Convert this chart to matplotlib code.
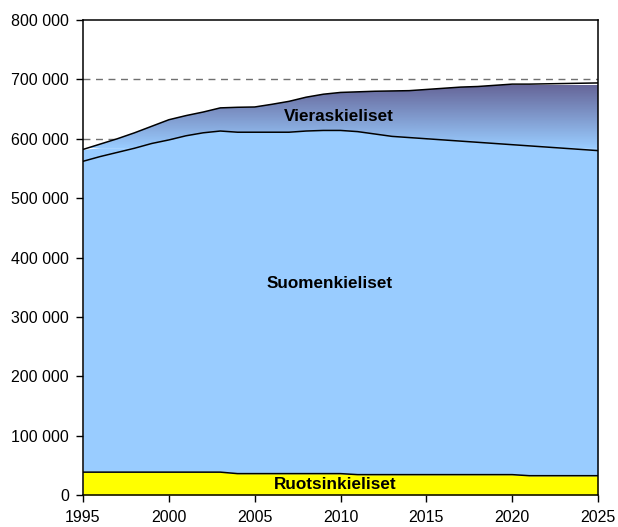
import matplotlib
matplotlib.use("Agg")
import matplotlib.pyplot as plt
import numpy as np
from matplotlib.colors import LinearSegmentedColormap
from matplotlib.ticker import FuncFormatter

years = list(range(1995, 2026))
ruotsinkieliset = [38500]*9 + [36000]*7 + [34300]*10 + [32500]*5
suomenkieliset = [523500, 531500, 538500, 545500, 553500, 559500, 566500, 571500, 574500,
                  575000, 575000, 575000, 575000, 577000, 578000, 578000, 577700, 573700,
                  569700, 567700, 565700, 563700, 561700, 559700, 557700, 555700, 555500,
                  553500, 551500, 549500, 547500]
vieraskieliset = [20000, 21000, 23000, 26000, 29000, 34000, 34000, 35000, 39000, 42000,
                  42500, 47000, 52000, 57000, 61000, 64000, 67000, 72000, 76500, 79000,
                  83000, 87000, 91000, 94000, 98000, 102000, 104000, 106500, 109000,
                  111500, 114000]
series_labels = ["Ruotsinkieliset", "Suomenkieliset", "Vieraskieliset"]
x_ticks = [1995, 2000, 2005, 2010, 2015, 2020, 2025]
y_ticks = list(range(0, 800001, 100000))

plt.rcParams['font.family'] = ['Liberation Sans', 'DejaVu Sans']

x = np.array(years)
r = np.array(ruotsinkieliset)
s = r + np.array(suomenkieliset)
v = s + np.array(vieraskieliset)

fig = plt.figure(figsize=(6.18, 5.27), dpi=100)
ax = fig.add_axes([83/618, 1-495/527, (598-83)/618, (495-20)/527])

ax.set_xlim(1995, 2025)
ax.set_ylim(0, 800000)

for yv in y_ticks[1:-1]:
    ax.axhline(yv, color='#707070', lw=1.0, ls=(0, (5, 4)), zorder=0)

ax.fill_between(x, 0, r, color='#ffff00', lw=0, zorder=2)
ax.fill_between(x, r, s, color='#99ccff', lw=0, zorder=2)
poly = ax.fill_between(x, s, v, color='none', lw=0, zorder=2)
cmap = LinearSegmentedColormap.from_list('g', ['#99ccff', '#666699'])
grad = np.linspace(0, 1, 256).reshape(-1, 1)
im = ax.imshow(grad, cmap=cmap, origin='lower', aspect='auto',
               extent=[1995, 2025, 585000, 690000], zorder=2)
path = poly.get_paths()[0]
im.set_clip_path(path, transform=ax.transData)
ax.fill_between(x, s, np.minimum(v, 585000), color='#99ccff', lw=0, zorder=2)

for arr in (r, s, v):
    ax.plot(x, arr, color='black', lw=1.1, zorder=3)

ax.set_xlim(1995, 2025)
ax.set_ylim(0, 800000)

ax.set_xticks(x_ticks)
ax.set_yticks(y_ticks)
ax.yaxis.set_major_formatter(FuncFormatter(lambda val, p: f"{int(val):,}".replace(",", " ")))
ax.tick_params(direction='out', length=5, width=1, labelsize=11.5, color='black')
ax.tick_params(axis='x', pad=6)
ax.tick_params(axis='y', pad=5)
for sp in ax.spines.values():
    sp.set_linewidth(1.1)
    sp.set_zorder(4)

txt_kw = dict(ha='center', va='center', fontsize=12.3, fontweight='bold', zorder=5)
ax.text(2009.9, 638000, series_labels[2], **txt_kw)
ax.text(2009.35, 357000, series_labels[1], **txt_kw)
ax.text(2009.7, 18000, series_labels[0], **txt_kw)

fig.savefig("out.png", dpi=100)
